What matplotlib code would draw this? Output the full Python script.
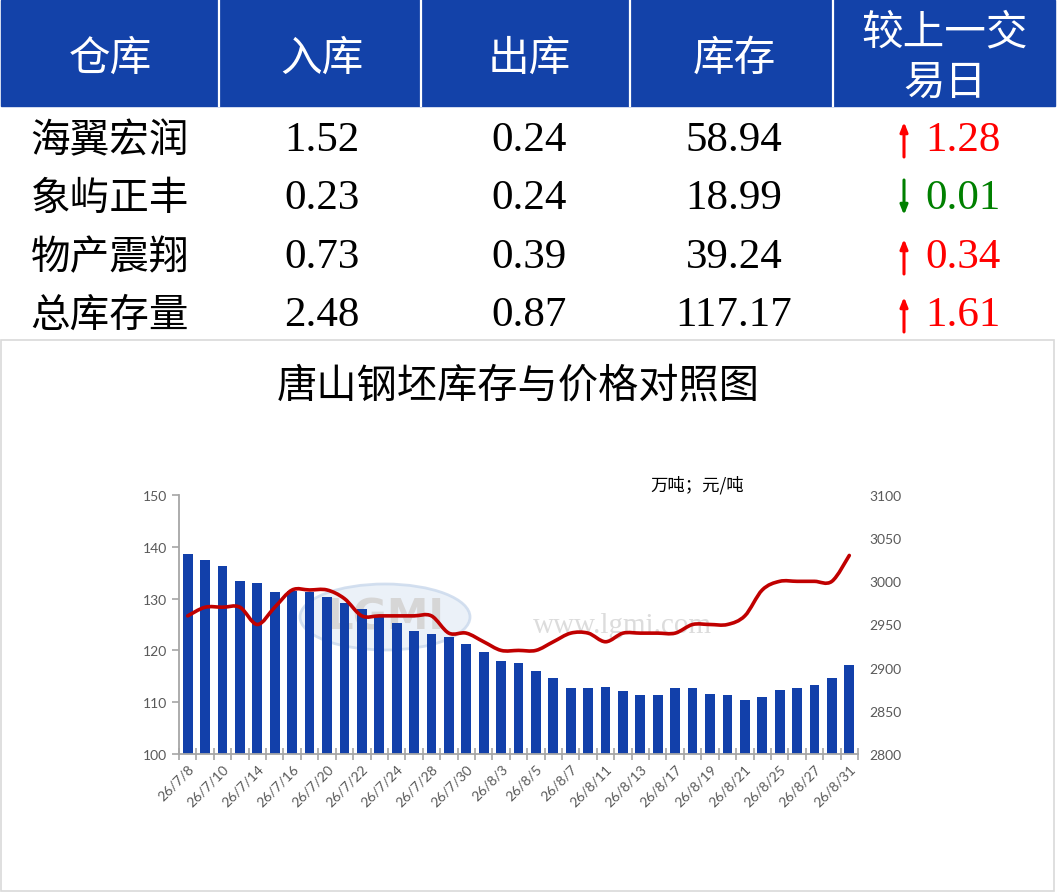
import numpy as np
import matplotlib.pyplot as plt
from matplotlib.path import Path
from matplotlib.patches import PathPatch, Rectangle, Ellipse

plt.rcParams['font.family'] = ['Noto Sans CJK SC', 'DejaVu Sans']

# table data
header = ['仓库', '入库', '出库', '库存']
header_last = ['较上一交', '易日']
warehouses = ['海翼宏润', '象屿正丰', '物产震翔', '总库存量']
inflow = ['1.52', '0.23', '0.73', '2.48']
outflow = ['0.24', '0.24', '0.39', '0.87']
stock = ['58.94', '18.99', '39.24', '117.17']
change = ['1.28', '0.01', '0.34', '1.61']
change_up = [True, False, True, True]

# chart data
dates = ['26/7/8', '26/7/9', '26/7/10', '26/7/13', '26/7/14', '26/7/15', '26/7/16',
         '26/7/17', '26/7/20', '26/7/21', '26/7/22', '26/7/23', '26/7/24', '26/7/27',
         '26/7/28', '26/7/29', '26/7/30', '26/7/31', '26/8/3', '26/8/4', '26/8/5',
         '26/8/6', '26/8/7', '26/8/10', '26/8/11', '26/8/12', '26/8/13', '26/8/14',
         '26/8/17', '26/8/18', '26/8/19', '26/8/20', '26/8/21', '26/8/24', '26/8/25',
         '26/8/26', '26/8/27', '26/8/28', '26/8/31']
inventory = [138.6, 137.4, 136.2, 133.4, 133.0, 131.2, 131.5, 131.2, 130.3, 129.2,
             128.0, 126.7, 125.3, 123.8, 123.1, 122.6, 121.3, 119.6, 117.9, 117.6,
             116.1, 114.7, 112.7, 112.7, 112.9, 112.1, 111.4, 111.4, 112.7, 112.7,
             111.6, 111.4, 110.4, 111.1, 112.3, 112.7, 113.4, 114.7, 117.17]
price = [2960, 2970, 2970, 2970, 2950, 2970, 2990, 2990, 2990, 2980,
         2960, 2960, 2960, 2960, 2960, 2940, 2940, 2930, 2920, 2920,
         2920, 2930, 2940, 2940, 2930, 2940, 2940, 2940, 2940, 2950,
         2950, 2950, 2960, 2990, 3000, 3000, 3000, 3000, 3030]

W, H = 1057, 895
fig = plt.figure(figsize=(W / 100, H / 100), dpi=100)
fig.patch.set_facecolor('white')

# background axes in pixel coords
bg = fig.add_axes([0, 0, 1, 1])
bg.set_xlim(0, W)
bg.set_ylim(H, 0)
bg.axis('off')

blue = '#1342A9'
bg.add_patch(Rectangle((1, 1), 1054, 106, color=blue, zorder=1))
for xl in [219, 421, 630, 833]:
    bg.plot([xl, xl], [1, 107], color='white', lw=1.6, zorder=2)

col_x = [110, 322, 529, 734, 945]
for i, h in enumerate(header):
    bg.text(col_x[i], 59, h, color='white', fontsize=30, ha='center', va='center', zorder=3)
bg.text(col_x[4], 33, header_last[0], color='white', fontsize=30, ha='center', va='center', zorder=3)
bg.text(col_x[4], 83, header_last[1], color='white', fontsize=30, ha='center', va='center', zorder=3)

row_y = [141, 199, 258, 316]
num_font = ['Liberation Serif', 'DejaVu Serif']
for r in range(4):
    y = row_y[r]
    bg.text(col_x[0], y, warehouses[r], fontsize=28.5, ha='center', va='center')
    bg.text(col_x[1], y, inflow[r], fontsize=31, ha='center', va='center', family=num_font)
    bg.text(col_x[2], y, outflow[r], fontsize=31, ha='center', va='center', family=num_font)
    bg.text(col_x[3], y, stock[r], fontsize=31, ha='center', va='center', family=num_font)
    c = '#FF0000' if change_up[r] else '#008000'
    if change_up[r]:
        tail, head = y + 17, y - 18
    else:
        tail, head = y - 18, y + 17
    bg.annotate('', xy=(904, head), xytext=(904, tail),
                arrowprops=dict(arrowstyle='-|>,head_length=0.55,head_width=0.22',
                                color=c, lw=2.2, shrinkA=0, shrinkB=0))
    bg.text(925, y, change[r], fontsize=31, ha='left', va='center', color=c, family=num_font)

# chart frame
bg.add_patch(Rectangle((1, 341), 1053, 551, fill=False, edgecolor='#D9D9D9', lw=1.2))
bg.text(518, 386, '唐山钢坯库存与价格对照图', fontsize=29, ha='center', va='center')
bg.text(697, 485, '万吨；元/吨', fontsize=12.5, ha='center', va='center')

# watermark
bg.add_patch(Ellipse((385, 618), 170, 66, facecolor='#E6EEF7', edgecolor='#C9D8EC', lw=2, alpha=0.8))
bg.text(385, 618, 'LGMI', fontsize=30, ha='center', va='center', color='#D6D6D6', fontweight='bold', family=['DejaVu Sans'])
bg.text(622, 626, 'www.lgmi.com', fontsize=21, ha='center', va='center', color='#DCDCDC', family=['Liberation Serif'])

# chart axes
left, right, top, bottom = 179, 858, 496, 755
ax = fig.add_axes([left / W, 1 - bottom / H, (right - left) / W, (bottom - top) / H])
ax.set_facecolor('none')
x = np.arange(len(dates))
ax.bar(x, inventory, width=0.56, color='#1240AA', zorder=2)
ax.set_xlim(-0.5, len(dates) - 0.5)
ax.set_ylim(100, 150)
ax.set_yticks(np.arange(100, 151, 10))
for s in ['top', 'right']:
    ax.spines[s].set_visible(False)
for s in ['left', 'bottom']:
    ax.spines[s].set_color('#A6A6A6')
    ax.spines[s].set_linewidth(1.3)
ax.tick_params(axis='y', colors='#595959', labelsize=10, length=5, width=1.2, color='#A6A6A6')
ax.set_xticks(x[::2])
ax.set_xticklabels(dates[::2], rotation=45, ha='right', rotation_mode='anchor')
ax.set_xticks(np.arange(len(dates) + 1) - 0.5, minor=True)
ax.tick_params(axis='x', which='major', length=0, labelsize=10, labelcolor='#595959', pad=6)
ax.tick_params(axis='x', which='minor', direction='inout', length=9, width=1.2, color='#A6A6A6')
for lab in ax.get_xticklabels() + ax.get_yticklabels():
    lab.set_family(['Lato', 'DejaVu Sans'])

ax2 = ax.twinx()
ax2.set_ylim(2800, 3100)
ax2.set_yticks(np.arange(2800, 3101, 50))
for s in ['top', 'right', 'left', 'bottom']:
    ax2.spines[s].set_visible(False)
ax2.tick_params(axis='y', colors='#595959', labelsize=10, length=0, pad=8)
for lab in ax2.get_yticklabels():
    lab.set_family(['Lato', 'DejaVu Sans'])

# smoothed price line (bezier through the points)
px = x.astype(float)
py = np.array(price, dtype=float)
n = len(px)
verts = [(px[0], py[0])]
codes = [Path.MOVETO]
for i in range(n - 1):
    a = max(i - 1, 0)
    b = min(i + 2, n - 1)
    c1 = (px[i] + (px[i + 1] - px[a]) / 6, py[i] + (py[i + 1] - py[a]) / 6)
    c2 = (px[i + 1] - (px[b] - px[i]) / 6, py[i + 1] - (py[b] - py[i]) / 6)
    verts += [c1, c2, (px[i + 1], py[i + 1])]
    codes += [Path.CURVE4] * 3
ax2.add_patch(PathPatch(Path(verts, codes), fill=False, edgecolor='#C00000', lw=2.6,
                        capstyle='round', joinstyle='round', zorder=3))

fig.savefig('out.png', dpi=100)
